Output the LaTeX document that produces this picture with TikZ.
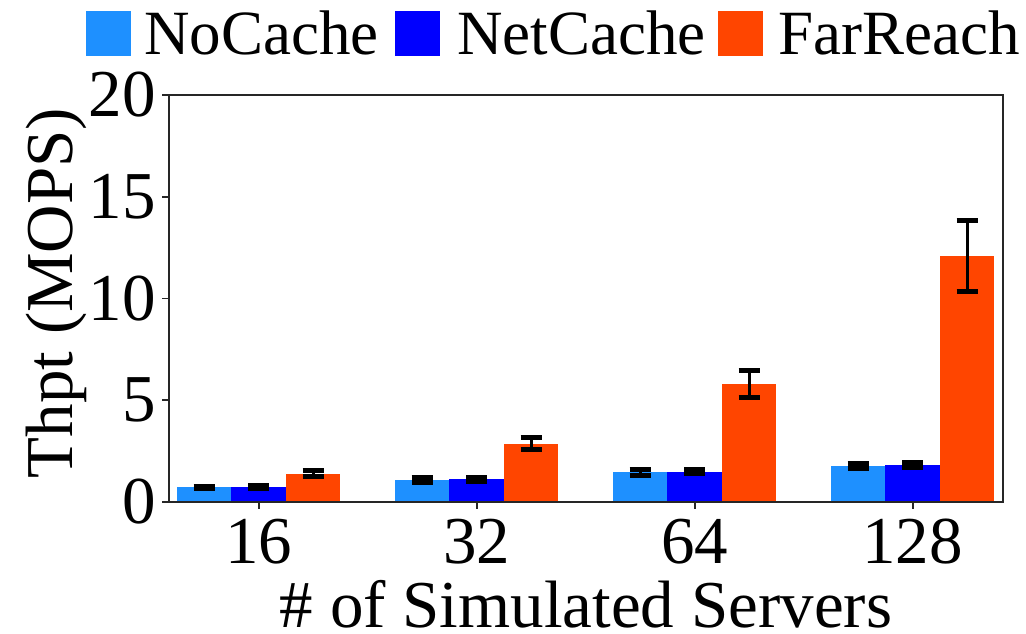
\documentclass[tikz,border=0pt]{standalone}
\usepackage{fontspec}
\setmainfont{Liberation Serif}
\definecolor{nocache}{HTML}{1E90FF}
\definecolor{netcache}{HTML}{0000FF}
\definecolor{farreach}{HTML}{FF4500}
% value -> vertical position: 0 at 132pt, 20.35pt per MOPS
\newcommand{\yv}[1]{132+20.35*#1}
% \thbar{center x}{value}{colour}{err low}{err high}
\newcommand{\thbar}[5]{%
  \fill[#3] ({#1-27.25},132) rectangle ({#1+27.25},{\yv{#2}});
  \draw[errline] (#1,{\yv{#4}}) -- (#1,{\yv{#5}});
  \draw[errcap] ({#1-10.6},{\yv{#4}}) -- ({#1+10.6},{\yv{#4}});
  \draw[errcap] ({#1-10.6},{\yv{#5}}) -- ({#1+10.6},{\yv{#5}});
}
\begin{document}
\begin{tikzpicture}[x=1pt,y=1pt,
  errline/.style={black,line width=3.3pt},
  errcap/.style={black,line width=5pt},
  spine/.style={black!85,line width=1.7pt},
  ticklab/.style={inner sep=0pt,font=\fontsize{67}{67}\selectfont},
  legtext/.style={inner sep=0pt,anchor=base west,font=\fontsize{63}{63}\selectfont}]
\useasboundingbox (0,0) rectangle (1026,634);

% bars with error bars: groups at 258.7, 476.7, 694.7, 912.7
\thbar{204.2}{0.74}{nocache}{0.66}{0.75}
\thbar{258.7}{0.74}{netcache}{0.66}{0.81}
\thbar{313.2}{1.38}{farreach}{1.25}{1.54}

\thbar{422.2}{1.08}{nocache}{0.97}{1.19}
\thbar{476.7}{1.13}{netcache}{1.01}{1.20}
\thbar{531.2}{2.85}{farreach}{2.56}{3.15}

\thbar{640.2}{1.47}{nocache}{1.32}{1.59}
\thbar{694.7}{1.47}{netcache}{1.42}{1.59}
\thbar{749.2}{5.80}{farreach}{5.14}{6.47}

\thbar{858.2}{1.77}{nocache}{1.65}{1.89}
\thbar{912.7}{1.82}{netcache}{1.71}{1.94}
\thbar{967.2}{12.09}{farreach}{10.33}{13.84}

% axes frame
\draw[spine] (169,132) rectangle (1003,539);

% y ticks and labels
\foreach \v in {0,5,10,15,20}{
  \draw[spine] (169,{\yv{\v}}) -- (162,{\yv{\v}});
  \node[ticklab,anchor=east] (yl\v) at (156,{\yv{\v}}) {\v};
}
% x ticks and labels
\foreach \cx/\lab in {258.7/16,476.7/32,694.7/64,912.7/128}{
  \draw[spine] (\cx,132) -- (\cx,125);
  \node[ticklab,anchor=base] (xl\lab) at (\cx,70.5) {\lab};
}

% axis titles
\node[ticklab,anchor=base] (xtitle) at (586,6) {\# of Simulated Servers};
\node[ticklab,anchor=base,rotate=90] (ytitle) at (72,341) {Thpt (MOPS)};

% legend
\fill[nocache] (86,578) rectangle (131,623);
\node[legtext] (lg1) at (144,579) {NoCache};
\fill[netcache] (395,578) rectangle (440,623);
\node[legtext] (lg2) at (457,579) {NetCache};
\fill[farreach] (718,578) rectangle (763,623);
\node[legtext] (lg3) at (778,579) {FarReach};
\end{tikzpicture}
\end{document}
